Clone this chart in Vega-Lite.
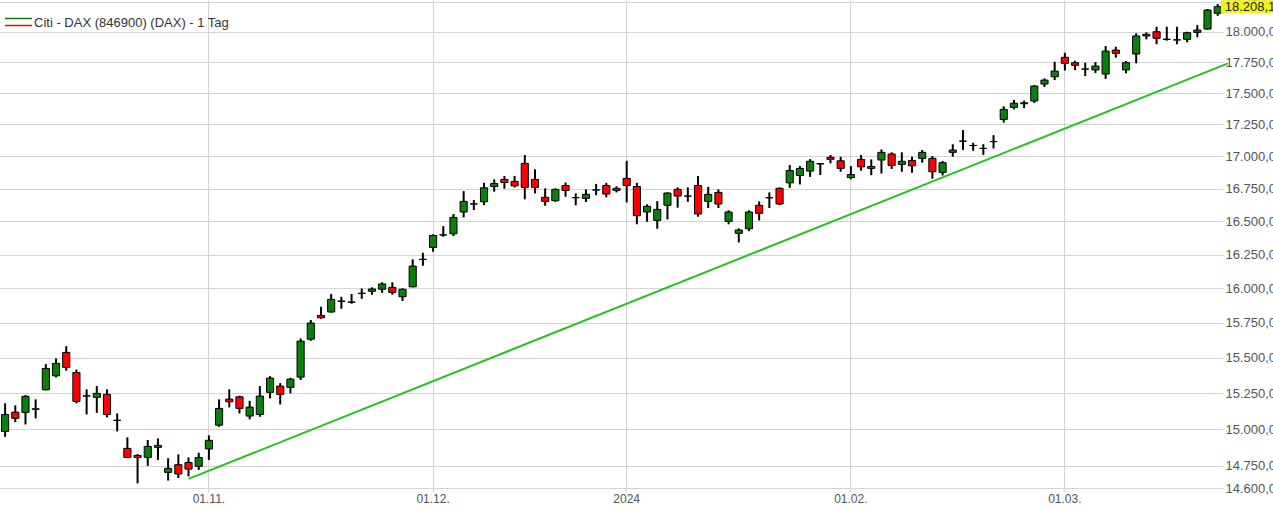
{
  "$schema": "https://vega.github.io/schema/vega-lite/v6.json",
  "width": 1223,
  "height": 488,
  "autosize": {"type": "none"},
  "padding": {"left": 0, "top": 0, "right": 50, "bottom": 20},
  "background": "white",
  "config": {"view": {"stroke": null}, "font": "Liberation Sans"},
  "datasets": {
    "candles": [
      {"date": "2023-10-04", "open": 14984, "high": 15178, "low": 14947, "close": 15101, "dir": "up"},
      {"date": "2023-10-05", "open": 15117, "high": 15164, "low": 15048, "close": 15074, "dir": "down"},
      {"date": "2023-10-06", "open": 15115, "high": 15236, "low": 15032, "close": 15227, "dir": "up"},
      {"date": "2023-10-09", "open": 15137, "high": 15206, "low": 15074, "close": 15140, "dir": "up"},
      {"date": "2023-10-10", "open": 15273, "high": 15454, "low": 15269, "close": 15423, "dir": "up"},
      {"date": "2023-10-11", "open": 15371, "high": 15494, "low": 15360, "close": 15459, "dir": "up"},
      {"date": "2023-10-12", "open": 15537, "high": 15582, "low": 15407, "close": 15431, "dir": "down"},
      {"date": "2023-10-13", "open": 15395, "high": 15416, "low": 15178, "close": 15192, "dir": "down"},
      {"date": "2023-10-16", "open": 15229, "high": 15276, "low": 15101, "close": 15231, "dir": "up"},
      {"date": "2023-10-17", "open": 15220, "high": 15299, "low": 15112, "close": 15248, "dir": "up"},
      {"date": "2023-10-18", "open": 15241, "high": 15276, "low": 15081, "close": 15101, "dir": "down"},
      {"date": "2023-10-19", "open": 15061, "high": 15108, "low": 14984, "close": 15060, "dir": "down"},
      {"date": "2023-10-20", "open": 14868, "high": 14943, "low": 14801, "close": 14806, "dir": "down"},
      {"date": "2023-10-23", "open": 14820, "high": 14829, "low": 14631, "close": 14806, "dir": "down"},
      {"date": "2023-10-24", "open": 14806, "high": 14925, "low": 14749, "close": 14881, "dir": "up"},
      {"date": "2023-10-25", "open": 14875, "high": 14936, "low": 14789, "close": 14888, "dir": "up"},
      {"date": "2023-10-26", "open": 14705, "high": 14801, "low": 14650, "close": 14732, "dir": "up"},
      {"date": "2023-10-27", "open": 14757, "high": 14827, "low": 14667, "close": 14694, "dir": "down"},
      {"date": "2023-10-30", "open": 14772, "high": 14806, "low": 14678, "close": 14727, "dir": "down"},
      {"date": "2023-10-31", "open": 14746, "high": 14838, "low": 14721, "close": 14806, "dir": "up"},
      {"date": "2023-11-01", "open": 14864, "high": 14957, "low": 14789, "close": 14923, "dir": "up"},
      {"date": "2023-11-02", "open": 15027, "high": 15206, "low": 15016, "close": 15143, "dir": "up"},
      {"date": "2023-11-03", "open": 15208, "high": 15276, "low": 15150, "close": 15189, "dir": "down"},
      {"date": "2023-11-06", "open": 15224, "high": 15231, "low": 15108, "close": 15143, "dir": "down"},
      {"date": "2023-11-07", "open": 15090, "high": 15196, "low": 15067, "close": 15152, "dir": "up"},
      {"date": "2023-11-08", "open": 15101, "high": 15299, "low": 15085, "close": 15229, "dir": "up"},
      {"date": "2023-11-09", "open": 15255, "high": 15369, "low": 15213, "close": 15355, "dir": "up"},
      {"date": "2023-11-10", "open": 15299, "high": 15320, "low": 15171, "close": 15241, "dir": "down"},
      {"date": "2023-11-13", "open": 15290, "high": 15357, "low": 15248, "close": 15348, "dir": "up"},
      {"date": "2023-11-14", "open": 15362, "high": 15637, "low": 15342, "close": 15618, "dir": "up"},
      {"date": "2023-11-15", "open": 15632, "high": 15770, "low": 15620, "close": 15748, "dir": "up"},
      {"date": "2023-11-16", "open": 15803, "high": 15866, "low": 15779, "close": 15786, "dir": "down"},
      {"date": "2023-11-17", "open": 15828, "high": 15959, "low": 15823, "close": 15920, "dir": "up"},
      {"date": "2023-11-20", "open": 15908, "high": 15939, "low": 15852, "close": 15906, "dir": "down"},
      {"date": "2023-11-21", "open": 15899, "high": 15959, "low": 15888, "close": 15901, "dir": "up"},
      {"date": "2023-11-22", "open": 15963, "high": 16000, "low": 15924, "close": 15965, "dir": "up"},
      {"date": "2023-11-23", "open": 15979, "high": 16008, "low": 15954, "close": 15996, "dir": "up"},
      {"date": "2023-11-24", "open": 15994, "high": 16045, "low": 15968, "close": 16033, "dir": "up"},
      {"date": "2023-11-27", "open": 16008, "high": 16045, "low": 15954, "close": 15971, "dir": "down"},
      {"date": "2023-11-28", "open": 15939, "high": 16001, "low": 15908, "close": 15994, "dir": "up"},
      {"date": "2023-11-29", "open": 16012, "high": 16215, "low": 16008, "close": 16165, "dir": "up"},
      {"date": "2023-11-30", "open": 16214, "high": 16264, "low": 16167, "close": 16215, "dir": "up"},
      {"date": "2023-12-01", "open": 16304, "high": 16402, "low": 16272, "close": 16394, "dir": "up"},
      {"date": "2023-12-04", "open": 16397, "high": 16464, "low": 16384, "close": 16398, "dir": "up"},
      {"date": "2023-12-05", "open": 16406, "high": 16556, "low": 16389, "close": 16530, "dir": "up"},
      {"date": "2023-12-06", "open": 16571, "high": 16731, "low": 16530, "close": 16652, "dir": "up"},
      {"date": "2023-12-07", "open": 16633, "high": 16662, "low": 16586, "close": 16632, "dir": "down"},
      {"date": "2023-12-08", "open": 16649, "high": 16794, "low": 16624, "close": 16756, "dir": "up"},
      {"date": "2023-12-11", "open": 16766, "high": 16821, "low": 16726, "close": 16789, "dir": "up"},
      {"date": "2023-12-12", "open": 16821, "high": 16847, "low": 16749, "close": 16797, "dir": "down"},
      {"date": "2023-12-13", "open": 16805, "high": 16847, "low": 16759, "close": 16771, "dir": "down"},
      {"date": "2023-12-14", "open": 16945, "high": 17010, "low": 16668, "close": 16759, "dir": "down"},
      {"date": "2023-12-15", "open": 16821, "high": 16899, "low": 16713, "close": 16759, "dir": "down"},
      {"date": "2023-12-18", "open": 16683, "high": 16752, "low": 16619, "close": 16652, "dir": "down"},
      {"date": "2023-12-19", "open": 16657, "high": 16752, "low": 16649, "close": 16744, "dir": "up"},
      {"date": "2023-12-20", "open": 16774, "high": 16797, "low": 16688, "close": 16736, "dir": "down"},
      {"date": "2023-12-21", "open": 16680, "high": 16713, "low": 16622, "close": 16681, "dir": "up"},
      {"date": "2023-12-22", "open": 16675, "high": 16744, "low": 16647, "close": 16706, "dir": "up"},
      {"date": "2023-12-27", "open": 16739, "high": 16786, "low": 16699, "close": 16740, "dir": "up"},
      {"date": "2023-12-28", "open": 16774, "high": 16794, "low": 16683, "close": 16708, "dir": "down"},
      {"date": "2023-12-29", "open": 16736, "high": 16767, "low": 16721, "close": 16752, "dir": "up"},
      {"date": "2024-01-02", "open": 16829, "high": 16965, "low": 16644, "close": 16774, "dir": "down"},
      {"date": "2024-01-03", "open": 16766, "high": 16794, "low": 16478, "close": 16543, "dir": "down"},
      {"date": "2024-01-04", "open": 16571, "high": 16629, "low": 16497, "close": 16614, "dir": "up"},
      {"date": "2024-01-05", "open": 16507, "high": 16654, "low": 16444, "close": 16591, "dir": "up"},
      {"date": "2024-01-08", "open": 16622, "high": 16721, "low": 16515, "close": 16716, "dir": "up"},
      {"date": "2024-01-09", "open": 16744, "high": 16759, "low": 16604, "close": 16693, "dir": "down"},
      {"date": "2024-01-10", "open": 16692, "high": 16759, "low": 16649, "close": 16693, "dir": "up"},
      {"date": "2024-01-11", "open": 16774, "high": 16847, "low": 16535, "close": 16556, "dir": "down"},
      {"date": "2024-01-12", "open": 16652, "high": 16764, "low": 16601, "close": 16706, "dir": "up"},
      {"date": "2024-01-15", "open": 16721, "high": 16744, "low": 16601, "close": 16632, "dir": "down"},
      {"date": "2024-01-16", "open": 16500, "high": 16584, "low": 16478, "close": 16571, "dir": "up"},
      {"date": "2024-01-17", "open": 16410, "high": 16447, "low": 16341, "close": 16435, "dir": "up"},
      {"date": "2024-01-18", "open": 16444, "high": 16584, "low": 16427, "close": 16571, "dir": "up"},
      {"date": "2024-01-19", "open": 16622, "high": 16652, "low": 16507, "close": 16561, "dir": "down"},
      {"date": "2024-01-22", "open": 16679, "high": 16721, "low": 16601, "close": 16680, "dir": "up"},
      {"date": "2024-01-23", "open": 16752, "high": 16759, "low": 16624, "close": 16632, "dir": "down"},
      {"date": "2024-01-24", "open": 16794, "high": 16932, "low": 16756, "close": 16890, "dir": "up"},
      {"date": "2024-01-25", "open": 16851, "high": 16924, "low": 16782, "close": 16906, "dir": "up"},
      {"date": "2024-01-26", "open": 16885, "high": 16978, "low": 16840, "close": 16961, "dir": "up"},
      {"date": "2024-01-29", "open": 16941, "high": 16948, "low": 16855, "close": 16942, "dir": "up"},
      {"date": "2024-01-30", "open": 16992, "high": 17010, "low": 16945, "close": 16976, "dir": "down"},
      {"date": "2024-01-31", "open": 16965, "high": 16997, "low": 16880, "close": 16906, "dir": "down"},
      {"date": "2024-02-01", "open": 16835, "high": 16924, "low": 16821, "close": 16858, "dir": "up"},
      {"date": "2024-02-02", "open": 16976, "high": 17010, "low": 16888, "close": 16918, "dir": "down"},
      {"date": "2024-02-05", "open": 16921, "high": 16976, "low": 16853, "close": 16906, "dir": "down"},
      {"date": "2024-02-06", "open": 16971, "high": 17054, "low": 16866, "close": 17031, "dir": "up"},
      {"date": "2024-02-07", "open": 17018, "high": 17031, "low": 16901, "close": 16929, "dir": "down"},
      {"date": "2024-02-08", "open": 16937, "high": 17031, "low": 16880, "close": 16961, "dir": "up"},
      {"date": "2024-02-09", "open": 16968, "high": 16997, "low": 16872, "close": 16926, "dir": "down"},
      {"date": "2024-02-12", "open": 16984, "high": 17049, "low": 16950, "close": 17031, "dir": "up"},
      {"date": "2024-02-13", "open": 16984, "high": 17002, "low": 16826, "close": 16880, "dir": "down"},
      {"date": "2024-02-14", "open": 16875, "high": 16963, "low": 16851, "close": 16950, "dir": "up"},
      {"date": "2024-02-15", "open": 17031, "high": 17094, "low": 16997, "close": 17049, "dir": "up"},
      {"date": "2024-02-16", "open": 17118, "high": 17206, "low": 17049, "close": 17119, "dir": "up"},
      {"date": "2024-02-19", "open": 17084, "high": 17106, "low": 17043, "close": 17085, "dir": "up"},
      {"date": "2024-02-20", "open": 17062, "high": 17095, "low": 17010, "close": 17061, "dir": "down"},
      {"date": "2024-02-21", "open": 17115, "high": 17166, "low": 17061, "close": 17116, "dir": "up"},
      {"date": "2024-02-22", "open": 17290, "high": 17395, "low": 17265, "close": 17370, "dir": "up"},
      {"date": "2024-02-23", "open": 17385, "high": 17445, "low": 17370, "close": 17419, "dir": "up"},
      {"date": "2024-02-26", "open": 17415, "high": 17440, "low": 17380, "close": 17423, "dir": "up"},
      {"date": "2024-02-27", "open": 17437, "high": 17565, "low": 17422, "close": 17557, "dir": "up"},
      {"date": "2024-02-28", "open": 17573, "high": 17619, "low": 17549, "close": 17605, "dir": "up"},
      {"date": "2024-02-29", "open": 17632, "high": 17754, "low": 17605, "close": 17678, "dir": "up"},
      {"date": "2024-03-01", "open": 17790, "high": 17828, "low": 17682, "close": 17741, "dir": "down"},
      {"date": "2024-03-04", "open": 17746, "high": 17762, "low": 17686, "close": 17725, "dir": "down"},
      {"date": "2024-03-05", "open": 17695, "high": 17746, "low": 17637, "close": 17694, "dir": "down"},
      {"date": "2024-03-06", "open": 17687, "high": 17751, "low": 17662, "close": 17719, "dir": "up"},
      {"date": "2024-03-07", "open": 17654, "high": 17882, "low": 17615, "close": 17841, "dir": "up"},
      {"date": "2024-03-08", "open": 17849, "high": 17876, "low": 17787, "close": 17822, "dir": "down"},
      {"date": "2024-03-11", "open": 17687, "high": 17760, "low": 17660, "close": 17746, "dir": "up"},
      {"date": "2024-03-12", "open": 17817, "high": 17987, "low": 17741, "close": 17965, "dir": "up"},
      {"date": "2024-03-13", "open": 17979, "high": 17995, "low": 17937, "close": 17965, "dir": "down"},
      {"date": "2024-03-14", "open": 18000, "high": 18041, "low": 17897, "close": 17946, "dir": "down"},
      {"date": "2024-03-15", "open": 17938, "high": 18041, "low": 17926, "close": 17937, "dir": "down"},
      {"date": "2024-03-18", "open": 17933, "high": 18041, "low": 17897, "close": 17932, "dir": "down"},
      {"date": "2024-03-19", "open": 17937, "high": 18000, "low": 17913, "close": 17992, "dir": "up"},
      {"date": "2024-03-20", "open": 17995, "high": 18055, "low": 17954, "close": 18014, "dir": "up"},
      {"date": "2024-03-21", "open": 18022, "high": 18189, "low": 18017, "close": 18180, "dir": "up"},
      {"date": "2024-03-22", "open": 18153, "high": 18230, "low": 18132, "close": 18208.1, "dir": "up"}
    ],
    "trend": [
      {"date": "2023-10-30", "value": 14661},
      {"date": "2024-03-25", "value": 17741}
    ],
    "last": [
      {"date": "2024-03-22", "value": 18208.1, "label": "18.208,1"}
    ]
  },
  "layer": [
    {
      "data": {"name": "candles"},
      "mark": {"type": "rule", "color": "black", "strokeWidth": 2},
      "encoding": {
        "x": {
          "field": "date",
          "type": "ordinal",
          "title": null,
          "scale": {"type": "band", "paddingInner": 0.3, "paddingOuter": 0.15, "range": [0, 1233]},
          "axis": {
            "values": ["2023-11-01", "2023-12-01", "2024-01-02", "2024-02-01", "2024-03-01"],
            "labelExpr": "datum.value == '2024-01-02' ? '2024' : slice(datum.value, 8, 10) + '.' + slice(datum.value, 5, 7) + '.'",
            "grid": true,
            "gridColor": "#d4d4d4",
            "gridWidth": 1,
            "bandPosition": 0.5,
            "domain": false,
            "ticks": true,
            "tickSize": 4,
            "tickColor": "#d4d4d4",
            "labelAngle": 0,
            "labelFont": "Liberation Sans",
            "labelFontSize": 12,
            "labelColor": "#555555",
            "labelPadding": 1,
            "labelOverlap": false
          }
        },
        "y": {
          "field": "low",
          "type": "quantitative",
          "title": null,
          "scale": {"type": "log", "domain": [14600, 18264], "nice": false},
          "axis": {
            "orient": "right",
            "values": [14600, 14750, 15000, 15250, 15500, 15750, 16000, 16250, 16500, 16750, 17000, 17250, 17500, 17750, 18000, 18250],
            "labelExpr": "format(floor(datum.value / 1000), 'd') + '.' + format(datum.value % 1000, '03d') + ',0'",
            "grid": true,
            "gridColor": "#d4d4d4",
            "gridWidth": 1,
            "ticks": false,
            "domain": false,
            "labelAlign": "left",
            "labelBaseline": "middle",
            "labelPadding": 2,
            "labelFont": "Liberation Sans",
            "labelFontSize": 13,
            "labelColor": "#555555",
            "labelFlush": false,
            "labelOverlap": false,
            "labelBound": false
          }
        },
        "y2": {"field": "high"}
      }
    },
    {
      "data": {"name": "candles"},
      "mark": {"type": "bar", "stroke": "black", "strokeWidth": 1},
      "encoding": {
        "x": {"field": "date", "type": "ordinal", "title": null},
        "y": {"field": "open", "type": "quantitative", "title": null},
        "y2": {"field": "close"},
        "fill": {
          "condition": {"test": "datum.dir == 'up'", "value": "#0b7f0b"},
          "value": "#ff0000"
        }
      }
    },
    {
      "data": {"name": "candles"},
      "mark": {"type": "rule", "strokeWidth": 1.5, "strokeCap": "butt"},
      "encoding": {
        "x": {"field": "date", "type": "ordinal", "title": null},
        "y": {"field": "low", "type": "quantitative", "title": null},
        "y2": {"field": "low"},
        "stroke": {
          "field": "dir",
          "type": "nominal",
          "scale": {"domain": ["up", "down"], "range": ["#0b7f0b", "#ff0000"]},
          "legend": {
            "orient": "none",
            "legendX": 17,
            "legendY": 17,
            "direction": "vertical",
            "symbolType": "M-18,0H18",
            "symbolSize": 2.25,
            "symbolStrokeWidth": 1.5,
            "rowPadding": 0,
            "padding": 0,
            "labelExpr": "''",
            "labelFontSize": 1,
            "labelOffset": 0,
            "title": "Citi - DAX (846900) (DAX) - 1 Tag",
            "titleOrient": "right",
            "titleLimit": 400,
            "titleFont": "Liberation Sans",
            "titleFontSize": 13,
            "titleFontWeight": "normal",
            "titleColor": "#333333",
            "titlePadding": -1,
            "titleBaseline": "middle"
          }
        }
      }
    },
    {
      "data": {"name": "trend"},
      "mark": {"type": "line", "color": "#25c425", "strokeWidth": 2},
      "encoding": {
        "x": {"field": "date", "type": "ordinal", "title": null},
        "y": {"field": "value", "type": "quantitative", "title": null}
      }
    },
    {
      "data": {"name": "last"},
      "mark": {"type": "point", "shape": "M-1,-0.25H1V0.25H-1Z", "size": 2704, "filled": true, "fill": "#f2f21e", "strokeWidth": 0, "opacity": 1, "xOffset": 29.3},
      "encoding": {
        "x": {"field": "date", "type": "ordinal", "title": null},
        "y": {"field": "value", "type": "quantitative", "title": null}
      }
    },
    {
      "data": {"name": "last"},
      "mark": {"type": "text", "align": "left", "baseline": "middle", "dx": 7, "font": "Liberation Sans", "fontSize": 13, "color": "#222222"},
      "encoding": {
        "x": {"field": "date", "type": "ordinal", "title": null},
        "y": {"field": "value", "type": "quantitative", "title": null},
        "text": {"field": "label"}
      }
    }
  ]
}
